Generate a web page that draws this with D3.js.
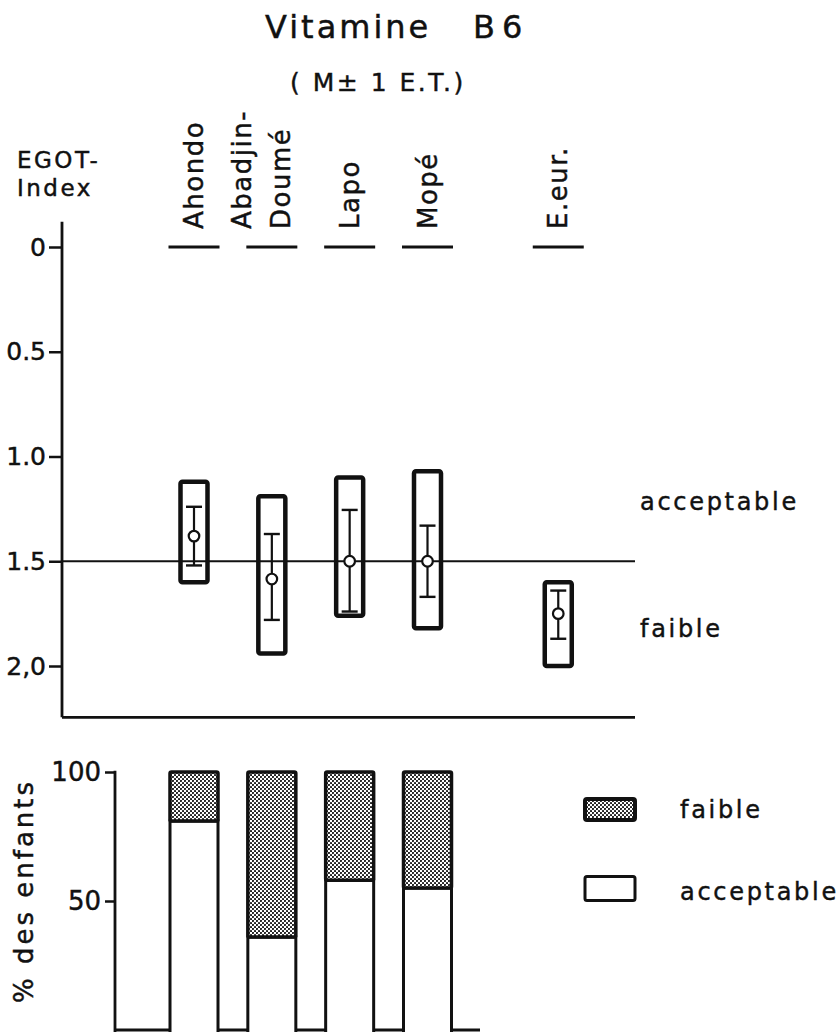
<!DOCTYPE html>
<html>
<head>
<meta charset="utf-8">
<script src="https://cdn.jsdelivr.net/npm/d3@7"></script>
<style>
  html, body { margin: 0; padding: 0; background: #fff; }
  svg { display: block; }
  text { font-family: "DejaVu Sans", sans-serif; fill: #111; stroke: #111; stroke-width: 0.45px; }
</style>
</head>
<body>
<script>
// ---- data ----
const categories   = ["Ahondo", "Abadjin-Doumé", "Lapo", "Mopé", "E.eur."];
const catLabelLines = [["Ahondo"], ["Abadjin-", "Doumé"], ["Lapo"], ["Mopé"], ["E.eur."]];
const isReference  = [false, false, false, false, true];

// EGOT index: outer box (low / high) and mean ± 1 SD
const boxLow   = [1.12, 1.19, 1.10, 1.07, 1.60];
const boxHigh  = [1.60, 1.94, 1.76, 1.82, 2.00];
const meanVal  = [1.38, 1.585, 1.50, 1.50, 1.75];
const sdLow    = [1.24, 1.37, 1.255, 1.33, 1.64];
const sdHigh   = [1.52, 1.78, 1.74, 1.67, 1.87];
const threshold = 1.5;

const egotTicks      = [0, 0.5, 1.0, 1.5, 2.0];
const egotTickLabels = ["0", "0.5", "1.0", "1.5", "2,0"];

// % of children per status (four sites only)
const pctSites      = ["Ahondo", "Abadjin-Doumé", "Lapo", "Mopé"];
const pctAcceptable = [81, 36, 58, 55];
const pctFaible     = [19, 64, 42, 45];
const pctTicks      = [50, 100];
const pctTickLabels = ["50", "100"];

const legendLabels = ["faible", "acceptable"];

// ---- layout ----
const W = 838, H = 1032;
const svg = d3.select("body").append("svg").attr("width", W).attr("height", H);

const defs = svg.append("defs");
const pat = defs.append("pattern").attr("id", "stipple")
  .attr("patternUnits", "userSpaceOnUse").attr("width", 4).attr("height", 4);
pat.append("rect").attr("width", 4).attr("height", 4).attr("fill", "#fff");
pat.append("circle").attr("cx", 1).attr("cy", 1).attr("r", 1.05).attr("fill", "#111");
pat.append("circle").attr("cx", 3).attr("cy", 3).attr("r", 1.05).attr("fill", "#111");

// category slots: the reference group sits after an extra gap
const groupGap = 0.68;
const slot = categories.map((c, i) => i + (isReference[i] ? groupGap : 0));
const xSlot = d3.scaleLinear().domain([0, 3]).range([194, 427.5]);
const xCat = c => xSlot(slot[categories.indexOf(c)]);
const bandW = 51;
const boxW = 27;

// ---- titles ----
const title = svg.append("text").attr("x", 265).attr("y", 38)
  .attr("font-size", 32).attr("letter-spacing", 3);
title.append("tspan").text("Vitamine");
title.append("tspan").attr("x", 473).text("B");
title.append("tspan").attr("x", 502).text("6");

svg.append("text").attr("x", 290).attr("y", 91)
  .attr("font-size", 25).attr("letter-spacing", 2.5)
  .attr("xml:space", "preserve")
  .text("( M\u00B1 1 E.T.)");

// y-axis title
const yTitle = svg.append("text").attr("font-size", 23).attr("letter-spacing", 2.5);
yTitle.append("tspan").attr("x", 17).attr("y", 168).text("EGOT-");
yTitle.append("tspan").attr("x", 17).attr("y", 196).text("Index");

// ---- upper panel: EGOT index ----
const yTop = d3.scaleLinear().domain([0, 2]).range([247, 666]);
const axisX = 62;
const panelRight = 635;

const gAxis = svg.append("g").attr("transform", `translate(${axisX},0)`)
  .call(d3.axisLeft(yTop).tickValues(egotTicks)
    .tickFormat((d, i) => egotTickLabels[i]).tickSize(13).tickPadding(3));
gAxis.select(".domain").remove();
gAxis.selectAll(".tick line").attr("stroke", "#111").attr("stroke-width", 2.5);
gAxis.selectAll(".tick text").attr("font-size", 25).attr("font-family", "DejaVu Sans")
  .attr("fill", "#111");

svg.append("line").attr("x1", axisX).attr("x2", axisX)
  .attr("y1", yTop(-0.12)).attr("y2", yTop(2.245))
  .attr("stroke", "#111").attr("stroke-width", 2.8);
svg.append("line").attr("x1", axisX).attr("x2", panelRight)
  .attr("y1", yTop(2.245)).attr("y2", yTop(2.245))
  .attr("stroke", "#111").attr("stroke-width", 2.8);

// threshold line
svg.append("line").attr("x1", axisX).attr("x2", panelRight)
  .attr("y1", yTop(threshold)).attr("y2", yTop(threshold))
  .attr("stroke", "#111").attr("stroke-width", 2.2);

// category labels (rotated) and their markers at index 0
const gLab = svg.append("g");
categories.forEach((c, i) => {
  const cx = xCat(c);
  gLab.append("line").attr("x1", cx - bandW / 2).attr("x2", cx + bandW / 2)
    .attr("y1", yTop(0)).attr("y2", yTop(0))
    .attr("stroke", "#111").attr("stroke-width", 3);
  const lines = catLabelLines[i];
  const offs = lines.length === 1 ? [9] : [-21, 18];
  lines.forEach((ln, j) => {
    gLab.append("text")
      .attr("transform", `translate(${cx + offs[j]},229) rotate(-90)`)
      .attr("font-size", 26).attr("letter-spacing", 1.5)
      .text(ln);
  });
});

// boxes
const gBox = svg.append("g");
categories.forEach((c, i) => {
  const cx = xCat(c);
  gBox.append("rect")
    .attr("x", cx - boxW / 2).attr("width", boxW)
    .attr("y", yTop(boxLow[i])).attr("height", yTop(boxHigh[i]) - yTop(boxLow[i]))
    .attr("rx", 2).attr("fill", "none")
    .attr("stroke", "#111").attr("stroke-width", 4.5);
  // mean ± 1 SD
  gBox.append("line").attr("x1", cx).attr("x2", cx)
    .attr("y1", yTop(sdLow[i])).attr("y2", yTop(sdHigh[i]))
    .attr("stroke", "#111").attr("stroke-width", 2.2);
  [sdLow[i], sdHigh[i]].forEach(v => {
    gBox.append("line").attr("x1", cx - 8).attr("x2", cx + 8)
      .attr("y1", yTop(v)).attr("y2", yTop(v))
      .attr("stroke", "#111").attr("stroke-width", 2.4);
  });
  gBox.append("circle").attr("cx", cx).attr("cy", yTop(meanVal[i])).attr("r", 5.3)
    .attr("fill", "#fff").attr("stroke", "#111").attr("stroke-width", 2.2);
});

// zone labels
svg.append("text").attr("x", 640).attr("y", 510)
  .attr("font-size", 24).attr("letter-spacing", 2.7).text("acceptable");
svg.append("text").attr("x", 640).attr("y", 637)
  .attr("font-size", 24).attr("letter-spacing", 2.7).text("faible");

// ---- lower panel: % of children ----
const yBot = d3.scaleLinear().domain([0, 100]).range([1030, 772]);
const axis2X = 115;

const gAxis2 = svg.append("g").attr("transform", `translate(${axis2X},0)`)
  .call(d3.axisLeft(yBot).tickValues(pctTicks)
    .tickFormat((d, i) => pctTickLabels[i]).tickSize(10).tickPadding(4));
gAxis2.select(".domain").remove();
gAxis2.selectAll(".tick line").attr("stroke", "#111").attr("stroke-width", 2.5);
gAxis2.selectAll(".tick text").attr("font-size", 26).attr("font-family", "DejaVu Sans")
  .attr("fill", "#111");
svg.append("line").attr("x1", axis2X).attr("x2", axis2X)
  .attr("y1", yBot(100.5)).attr("y2", H)
  .attr("stroke", "#111").attr("stroke-width", 2.8);
svg.append("line").attr("x1", axis2X).attr("x2", 480)
  .attr("y1", yBot(0)).attr("y2", yBot(0))
  .attr("stroke", "#111").attr("stroke-width", 2.8);

svg.append("text")
  .attr("transform", `translate(33,${891}) rotate(-90)`)
  .attr("text-anchor", "middle").attr("font-size", 26).attr("letter-spacing", 3)
  .text("% des enfants");

const gBars = svg.append("g");
pctSites.forEach((s, i) => {
  const cx = xCat(s);
  const acc = pctAcceptable[i], fai = pctFaible[i];
  gBars.append("rect")
    .attr("x", cx - bandW / 2 + 1.5).attr("width", bandW - 3)
    .attr("y", yBot(acc)).attr("height", yBot(0) - yBot(acc) + 4)
    .attr("fill", "#fff").attr("stroke", "#111").attr("stroke-width", 3);
  gBars.append("rect")
    .attr("x", cx - bandW / 2 + 1.5).attr("width", bandW - 3)
    .attr("y", yBot(acc + fai)).attr("height", yBot(acc) - yBot(acc + fai))
    .attr("rx", 1.5)
    .attr("fill", "url(#stipple)").attr("stroke", "#111").attr("stroke-width", 3.5);
});

// legend
const legFills = ["url(#stipple)", "#fff"];
const legY = [799, 876.5];
const legH = [21, 24];
legendLabels.forEach((lab, i) => {
  svg.append("rect").attr("x", 585).attr("y", legY[i]).attr("width", 50).attr("height", legH[i])
    .attr("rx", 2).attr("fill", legFills[i]).attr("stroke", "#111")
    .attr("stroke-width", i === 0 ? 4 : 3);
  svg.append("text").attr("x", 680).attr("y", i === 0 ? 818 : 900)
    .attr("font-size", 24).attr("letter-spacing", 2.7).text(lab);
});
</script>
</body>
</html>
